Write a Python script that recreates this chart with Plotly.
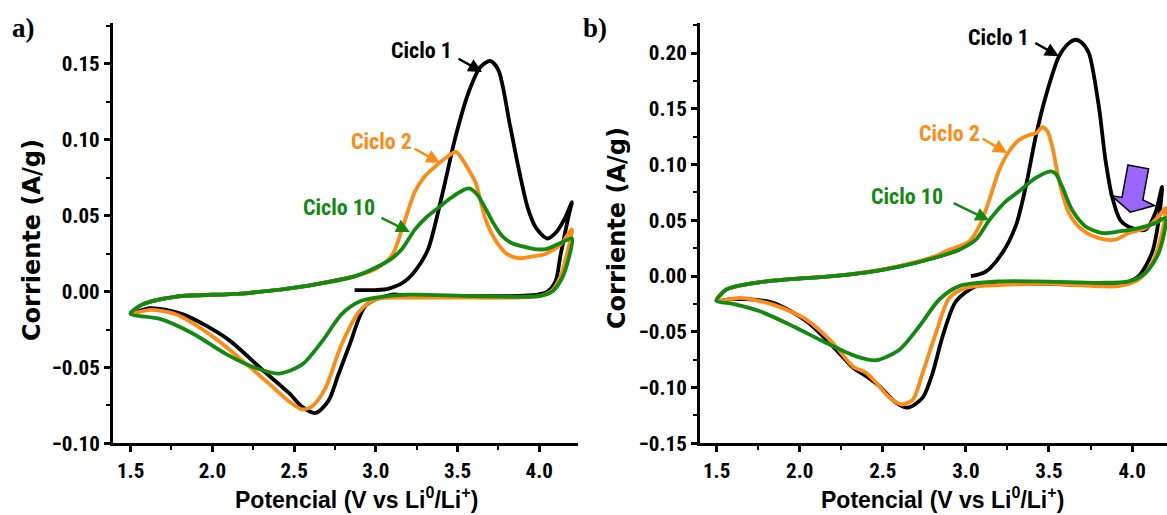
import plotly.graph_objects as go

# ---------------- data ----------------
# Panel a
a1_x = [2.87, 3.00, 3.08, 3.18, 3.25, 3.32, 3.40, 3.49, 3.57, 3.64, 3.70, 3.75, 3.82, 3.88, 3.93, 3.98, 4.05, 4.11, 4.16, 4.20,
        4.18, 4.13, 4.10, 4.05, 3.99, 3.80, 3.50, 3.20, 3.10, 2.94, 2.84, 2.77, 2.71, 2.63, 2.55, 2.47, 2.30, 2.09, 1.82, 1.62, 1.50,
        1.57, 1.78, 2.18, 2.59, 2.87]
a1_y = [0.001, 0.001, 0.002, 0.007, 0.015, 0.028, 0.061, 0.103, 0.132, 0.148, 0.152, 0.146, 0.110, 0.078, 0.055, 0.042, 0.035, 0.040, 0.049, 0.059,
        0.050, 0.024, 0.007, 0.000, -0.002, -0.003, -0.003, -0.003, -0.002, -0.009, -0.035, -0.055, -0.072, -0.080, -0.076, -0.067, -0.051, -0.031, -0.015, -0.011, -0.0145,
        -0.0086, -0.0033, -0.0013, 0.004, 0.010]

a2_x = [1.50, 1.57, 1.78, 2.18, 2.59, 2.87, 3.00, 3.10, 3.16, 3.24, 3.30, 3.37, 3.44, 3.49, 3.53, 3.58, 3.61, 3.67, 3.71, 3.75, 3.80, 3.87, 3.95, 4.04, 4.13, 4.20,
        4.17, 4.13, 4.08, 4.00, 3.80, 3.50, 3.20, 3.00, 2.90, 2.79, 2.69, 2.61, 2.55, 2.47, 2.35, 2.21, 2.02, 1.78, 1.62, 1.50]
a2_y = [-0.0145, -0.0086, -0.0033, -0.0013, 0.004, 0.010, 0.015, 0.024, 0.041, 0.066, 0.076, 0.083, 0.089, 0.092, 0.087, 0.078, 0.072, 0.048, 0.038, 0.031, 0.025, 0.022, 0.023, 0.025, 0.031, 0.041,
        0.025, 0.010, 0.001, -0.003, -0.004, -0.004, -0.004, -0.005, -0.013, -0.035, -0.064, -0.0757, -0.0776, -0.0724, -0.061, -0.048, -0.031, -0.0151, -0.012, -0.0145]

a3_x = [1.50, 1.57, 1.78, 2.18, 2.59, 2.87, 3.04, 3.10, 3.16, 3.24, 3.31, 3.38, 3.45, 3.52, 3.57, 3.62, 3.67, 3.72, 3.77, 3.83, 3.89, 3.97, 4.04, 4.13, 4.20,
        4.18, 4.14, 4.08, 4.00, 3.60, 3.20, 3.00, 2.90, 2.79, 2.67, 2.55, 2.41, 2.27, 2.09, 1.88, 1.68, 1.50]
a3_y = [-0.0145, -0.0086, -0.0033, -0.0013, 0.004, 0.010, 0.018, 0.022, 0.028, 0.041, 0.049, 0.055, 0.061, 0.066, 0.068, 0.064, 0.055, 0.045, 0.037, 0.032, 0.030, 0.028, 0.028, 0.032, 0.035,
        0.022, 0.009, 0.000, -0.003, -0.003, -0.002, -0.004, -0.0066, -0.015, -0.033, -0.048, -0.054, -0.0505, -0.0415, -0.0276, -0.018, -0.0145]

# Panel b
b1_x = [3.03, 3.12, 3.22, 3.30, 3.36, 3.42, 3.48, 3.56, 3.62, 3.66, 3.70, 3.74, 3.80, 3.84, 3.88, 3.93, 4.00, 4.08, 4.14, 4.18,
        4.16, 4.12, 4.04, 3.96, 3.88, 3.50, 3.20, 3.06, 2.94, 2.86, 2.80, 2.74, 2.65, 2.58, 2.48, 2.40, 2.32, 2.20, 2.04, 1.84, 1.60, 1.50,
        1.56, 1.80, 2.20, 2.40, 2.60, 2.80, 2.96]
b1_y = [0.000, 0.004, 0.021, 0.045, 0.080, 0.125, 0.161, 0.197, 0.209, 0.212, 0.209, 0.200, 0.152, 0.104, 0.071, 0.050, 0.043, 0.0415, 0.0565, 0.080,
        0.050, 0.021, 0.000, -0.006, -0.008, -0.007, -0.007, -0.009, -0.0226, -0.054, -0.0868, -0.109, -0.118, -0.1136, -0.0987, -0.0898, -0.082, -0.063, -0.0405, -0.024, -0.0205, -0.022,
        -0.012, -0.0047, 0.000, 0.0033, 0.0087, 0.016, 0.0236]

b2_x = [1.50, 1.56, 1.80, 2.20, 2.40, 2.60, 2.80, 2.90, 3.02, 3.08, 3.14, 3.20, 3.26, 3.32, 3.38, 3.42, 3.46, 3.49, 3.52, 3.56, 3.62, 3.70, 3.80, 3.90, 3.98, 4.08, 4.16, 4.20,
        4.18, 4.12, 4.04, 3.92, 3.50, 3.20, 3.00, 2.90, 2.82, 2.74, 2.68, 2.61, 2.54, 2.46, 2.40, 2.32, 2.20, 2.04, 1.84, 1.64, 1.50]
b2_y = [-0.022, -0.012, -0.0047, 0.000, 0.0035, 0.009, 0.017, 0.0236, 0.031, 0.0445, 0.068, 0.095, 0.112, 0.122, 0.1266, 0.128, 0.1335, 0.130, 0.116, 0.086, 0.0565, 0.0415, 0.034, 0.0326, 0.0386, 0.043, 0.0535, 0.061,
        0.0386, 0.0117, -0.003, -0.009, -0.007, -0.008, -0.0107, -0.0196, -0.051, -0.0868, -0.111, -0.115, -0.109, -0.0957, -0.0868, -0.081, -0.060, -0.039, -0.0256, -0.0196, -0.022]

b3_x = [1.50, 1.56, 1.80, 2.20, 2.40, 2.60, 2.84, 2.96, 3.06, 3.14, 3.24, 3.32, 3.42, 3.51, 3.54, 3.58, 3.64, 3.72, 3.82, 3.92, 4.04, 4.14, 4.20,
        4.16, 4.08, 3.98, 3.80, 3.50, 3.20, 2.96, 2.84, 2.72, 2.60, 2.46, 2.34, 2.16, 1.96, 1.76, 1.60, 1.50]
b3_y = [-0.022, -0.012, -0.0047, 0.000, 0.0033, 0.0085, 0.0176, 0.0236, 0.0326, 0.050, 0.067, 0.076, 0.088, 0.094, 0.092, 0.080, 0.059, 0.0445, 0.0386, 0.040, 0.043, 0.0475, 0.052,
        0.0207, 0.0028, -0.0047, -0.006, -0.005, -0.0047, -0.009, -0.021, -0.045, -0.066, -0.0755, -0.072, -0.060, -0.045, -0.0316, -0.025, -0.022]

cycle_names = ["Ciclo 1", "Ciclo 2", "Ciclo 10"]
cycle_colors = ["#000000", "#FF8A14", "#128A12"]

x_ticks = [1.5, 2.0, 2.5, 3.0, 3.5, 4.0]
ya_ticks = [-0.10, -0.05, 0.00, 0.05, 0.10, 0.15]
yb_ticks = [-0.15, -0.10, -0.05, 0.00, 0.05, 0.10, 0.15, 0.20]

# label annotations: (tip x, tip y, tail dx px, tail dy px, text x, text y)
labels_a = [(3.65, 0.1448, -25, -14, 3.277, 0.1586),
            (3.393, 0.0848, -27, -15, 3.032, 0.0986),
            (3.209, 0.0392, -30, -15, 2.774, 0.0557)]
labels_b = [(3.559, 0.1973, -25, -14, 3.194, 0.2143),
            (3.248, 0.1105, -26, -15, 2.900, 0.1283),
            (3.140, 0.0500, -37, -18, 2.648, 0.0711)]

# purple block arrow (panel b), data coordinates
purple_x = [3.975, 4.099, 4.065, 4.135, 3.990, 3.876, 3.939]
purple_y = [0.0997, 0.0962, 0.0684, 0.0633, 0.0574, 0.0722, 0.0705]

# ---------------- figure ----------------
NARROW = "Liberation Sans Narrow, Arial Narrow, Roboto Condensed, Liberation Sans, Arial, sans-serif"
SANS = "Liberation Sans, Arial, sans-serif"
SERIF = "Liberation Serif, Times New Roman, serif"

fig = go.Figure()

panel_a = [(a1_x, a1_y), (a2_x, a2_y), (a3_x, a3_y)]
panel_b = [(b1_x, b1_y), (b2_x, b2_y), (b3_x, b3_y)]

for (xs, ys), name, col in zip(panel_a, cycle_names, cycle_colors):
    fig.add_trace(go.Scatter(x=xs, y=ys, mode="lines", name=name, xaxis="x", yaxis="y",
                             line=dict(color=col, width=3.8, shape="spline", smoothing=0.8),
                             showlegend=False))
for (xs, ys), name, col in zip(panel_b, cycle_names, cycle_colors):
    fig.add_trace(go.Scatter(x=xs, y=ys, mode="lines", name=name, xaxis="x2", yaxis="y2",
                             line=dict(color=col, width=3.8, shape="spline", smoothing=0.8),
                             showlegend=False))

tickfont = dict(family=NARROW, size=21, color="black", weight="bold")


def axis_common(minor_dtick):
    return dict(showline=True, linecolor="black", linewidth=3, ticks="outside", ticklen=6,
                tickwidth=2.5, tickcolor="black", showgrid=False, zeroline=False, mirror=False,
                tickfont=tickfont, automargin=False,
                minor=dict(ticks="outside", ticklen=4, tickwidth=2, tickcolor="black",
                           dtick=minor_dtick, showgrid=False))


ydom = [0.1392, 0.9553]
fig.update_layout(
    width=1167, height=515,
    margin=dict(l=0, r=0, t=0, b=0),
    paper_bgcolor="white", plot_bgcolor="white",
    xaxis=dict(domain=[0.0968, 0.4953], anchor="y", range=[1.392, 4.237],
               tickvals=x_ticks, tickformat=".1f", **axis_common(0.25)),
    yaxis=dict(domain=ydom, anchor="x", range=[-0.10, 0.177],
               tickvals=ya_ticks, tickformat=".2f", **axis_common(0.025)),
    xaxis2=dict(domain=[0.5998, 1.0], anchor="y2", range=[1.40, 4.21],
                tickvals=x_ticks, tickformat=".1f", **axis_common(0.25)),
    yaxis2=dict(domain=ydom, anchor="x2", range=[-0.15, 0.227],
                tickvals=yb_ticks, tickformat=".2f", **axis_common(0.025)),
)

annotations = []
for labels, xr, yr in [(labels_a, "x", "y"), (labels_b, "x2", "y2")]:
    for (tx, ty, dx, dy, lx, ly), name, col in zip(labels, cycle_names, cycle_colors):
        annotations.append(dict(x=tx, y=ty, xref=xr, yref=yr, ax=dx, ay=dy, text="",
                                showarrow=True, arrowhead=2, arrowsize=1.1, arrowwidth=2.5,
                                arrowcolor=col, standoff=0))
        annotations.append(dict(x=lx, y=ly, xref=xr, yref=yr, text="<b>" + name + "</b>",
                                showarrow=False, font=dict(family=NARROW, size=22, color=col),
                                xanchor="center", yanchor="middle"))

# panel letters
annotations.append(dict(x=23 / 1167, y=1 - 28 / 515, xref="paper", yref="paper", text="<b>a)</b>",
                        showarrow=False, font=dict(family=SERIF, size=27, color="black"),
                        xanchor="center", yanchor="middle"))
annotations.append(dict(x=595 / 1167, y=1 - 28 / 515, xref="paper", yref="paper", text="<b>b)</b>",
                        showarrow=False, font=dict(family=SERIF, size=27, color="black"),
                        xanchor="center", yanchor="middle"))

# axis titles
xtitle = ("<b>Potencial</b> <span style='font-family:Liberation Sans Narrow, Arial Narrow, sans-serif'>"
          "<b>(V vs Li<sup>0</sup>/Li<sup>+</sup>)</b></span>")
for cx in [356, 942]:
    annotations.append(dict(x=cx / 1167, y=1 - 498 / 515, xref="paper", yref="paper", text=xtitle,
                            showarrow=False, font=dict(family=SANS, size=23, color="black"),
                            xanchor="center", yanchor="middle"))
for cx, cy in [(32, 240), (617, 228)]:
    annotations.append(dict(x=cx / 1167, y=1 - cy / 515, xref="paper", yref="paper",
                            text="<b>Corriente (A/g)</b>", textangle=-90,
                            showarrow=False, font=dict(family="DejaVu Sans, " + SANS, size=24, color="black"),
                            xanchor="center", yanchor="middle"))

fig.update_layout(annotations=annotations)

path = "M " + " L ".join(f"{x},{y}" for x, y in zip(purple_x, purple_y)) + " Z"
fig.add_shape(type="path", path=path, xref="x2", yref="y2",
              fillcolor="#9966FF", line=dict(color="black", width=1.5), layer="above")

fig.write_html("out.html", config={"displayModeBar": False},
               post_script="document.body.style.margin='0';document.body.style.overflow='hidden';")
